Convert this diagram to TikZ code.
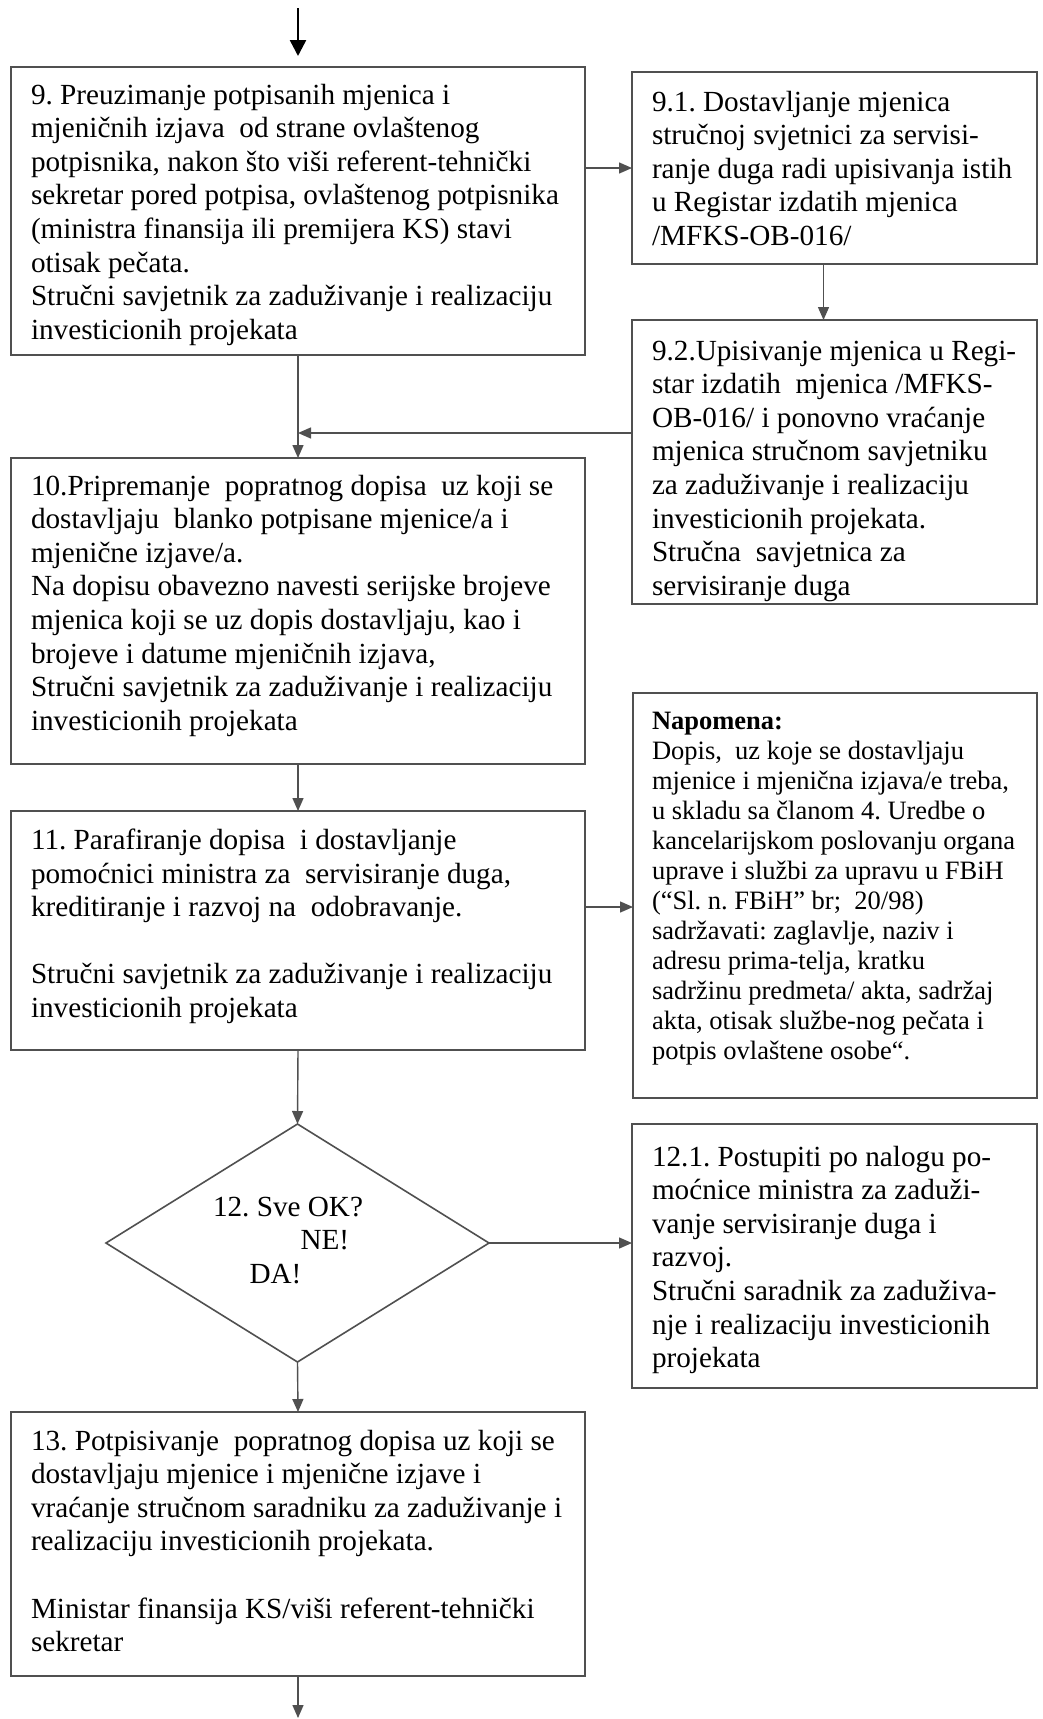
\documentclass[tikz,border=0pt]{standalone}
\usepackage{fontspec}
\setmainfont{Liberation Serif}
\usetikzlibrary{arrows.meta,shapes.geometric,calc}
\definecolor{linec}{HTML}{505050}
\frenchspacing
\tikzset{
  box/.style={draw=linec, line width=2pt, inner sep=0pt, outer sep=0pt, fill=white},
  decis/.style={draw=linec, line width=1.6pt, shape=diamond, inner sep=0pt, outer sep=0pt},
  arr/.style={draw=linec, line width=1.4pt, -{Triangle[length=13pt,width=11pt]}},
  arrtop/.style={draw=black, line width=2.5pt, -{Triangle[length=16pt,width=16pt]}},
  txt/.style={anchor=base west, inner sep=0pt, outer sep=0pt, align=left,
    font=\fontsize{29.2pt}{33.6pt}\selectfont},
  txtsmall/.style={anchor=base west, inner sep=0pt, outer sep=0pt, align=left,
    font=\fontsize{26.5pt}{30pt}\selectfont},
}
\newcommand{\lines}[1]{\parbox[t]{700pt}{\raggedright\frenchspacing #1}}
\begin{document}
\begin{tikzpicture}[x=1pt,y=-1pt]
\useasboundingbox[fill=white] (0,0) rectangle (1043,1719);

% boxes
\node[box, minimum width=574pt, minimum height=288pt] (b9)  at (298,211)   {};
\node[box, minimum width=405pt, minimum height=192pt] (b91) at (834.5,168) {};
\node[box, minimum width=405pt, minimum height=284pt] (b92) at (834.5,462) {};
\node[box, minimum width=574pt, minimum height=306pt] (b10) at (298,611)   {};
\node[box, minimum width=574pt, minimum height=239pt] (b11) at (298,930.5) {};
\node[box, minimum width=404pt, minimum height=405pt] (bN)  at (835,895.5) {};
\node[decis, minimum width=383pt, minimum height=238pt] (d12) at (297.5,1243) {};
\node[box, minimum width=405pt, minimum height=264pt] (b121) at (834.5,1256) {};
\node[box, minimum width=574pt, minimum height=264pt] (b13) at (298,1544) {};

% texts
\node[txt] (t9) at (31,104) {\lines{9. Preuzimanje potpisanih mjenica i\\
mjeničnih izjava\ \ od strane ovlaštenog\\
potpisnika, nakon što viši referent-tehnički\\
sekretar pored potpisa, ovlaštenog potpisnika\\
(ministra finansija ili premijera KS) stavi\\
otisak pečata.\\
Stručni savjetnik za zaduživanje i realizaciju\\
investicionih projekata}};

\node[txt] (t91) at (652,111) {\lines{9.1. Dostavljanje mjenica\\
stručnoj svjetnici za servisi-\\
ranje duga radi upisivanja istih\\
u Registar izdatih mjenica\\
/MFKS-OB-016/}};

\node[txt] (t92) at (652,360) {\lines{9.2.Upisivanje mjenica u Regi-\\
star izdatih\ \ mjenica /MFKS-\\
OB-016/ i ponovno vraćanje\\
mjenica stručnom savjetniku\\
za zaduživanje i realizaciju\\
investicionih projekata.\\
Stručna\ \ savjetnica za\\
servisiranje duga}};

\node[txt] (t10) at (31,495) {\lines{10.Pripremanje\ \ popratnog dopisa\ \ uz koji se\\
dostavljaju\ \ blanko potpisane mjenice/a i\\
mjenične izjave/a.\\
Na dopisu obavezno navesti serijske brojeve\\
mjenica koji se uz dopis dostavljaju, kao i\\
brojeve i datume mjeničnih izjava,\\
Stručni savjetnik za zaduživanje i realizaciju\\
investicionih projekata}};

\node[txt] (t11) at (31,849.5) {\lines{11. Parafiranje dopisa\ \ i dostavljanje\\
pomoćnici ministra za\ \ servisiranje duga,\\
kreditiranje i razvoj na\ \ odobravanje.\\[33.6pt]
Stručni savjetnik za zaduživanje i realizaciju\\
investicionih projekata}};

\node[txtsmall] (tN) at (652,729) {\lines{\textbf{Napomena:}\\
Dopis,\ \ uz koje se dostavljaju\\
mjenice i mjenična izjava/e treba,\\
u skladu sa članom 4. Uredbe o\\
kancelarijskom poslovanju organa\\
uprave i službi za upravu u FBiH\\
(“Sl. n. FBiH” br;\ \ 20/98)\\
sadržavati: zaglavlje, naziv i\\
adresu prima-telja, kratku\\
sadržinu predmeta/ akta, sadržaj\\
akta, otisak službe-nog pečata i\\
potpis ovlaštene osobe“.}};

\node[txt] (td1) at (213,1216.5) {12. Sve OK?};
\node[txt] (td2) at (300.5,1249) {NE!};
\node[txt] (td3) at (249.5,1283.5) {DA!};

\node[txt] (t121) at (652,1166) {\lines{12.1. Postupiti po nalogu po-\\
moćnice ministra za zaduži-\\
vanje servisiranje duga i\\
razvoj.\\
Stručni saradnik za zaduživa-\\
nje i realizaciju investicionih\\
projekata}};

\node[txt] (t13) at (31,1450) {\lines{13. Potpisivanje\ \ popratnog dopisa uz koji se\\
dostavljaju mjenice i mjenične izjave i\\
vraćanje stručnom saradniku za zaduživanje i\\
realizaciju investicionih projekata.\\[33.6pt]
Ministar finansija KS/viši referent-tehnički\\
sekretar}};

% connectors
\coordinate (start) at (298,8);
\coordinate (finish) at (298,1718);
\draw[arrtop] (start) -- ([yshift=11pt]b9.north);
\draw[arr] (b91.west -| b9.east) -- (b91.west);
\draw[arr] ([xshift=-11pt]b91.south) -- ([xshift=-11pt]b92.north);
\draw[arr] (b9.south) -- (b10.north);
\draw[arr] ([yshift=29pt]b92.west) -- ([yshift=29pt]b92.west -| b9.south);
\draw[arr] (b10.south) -- (b11.north);
\draw[arr] ([yshift=23.5pt]b11.east) -- ([yshift=23.5pt]b11.east -| bN.west);
\draw[arr] (b11.south) -- (d12.north);
\draw[arr] (d12.east) -- (d12.east -| b121.west);
\draw[arr] (d12.south) -- (b13.north);
\draw[arr] (b13.south) -- (finish);
\end{tikzpicture}
\end{document}
